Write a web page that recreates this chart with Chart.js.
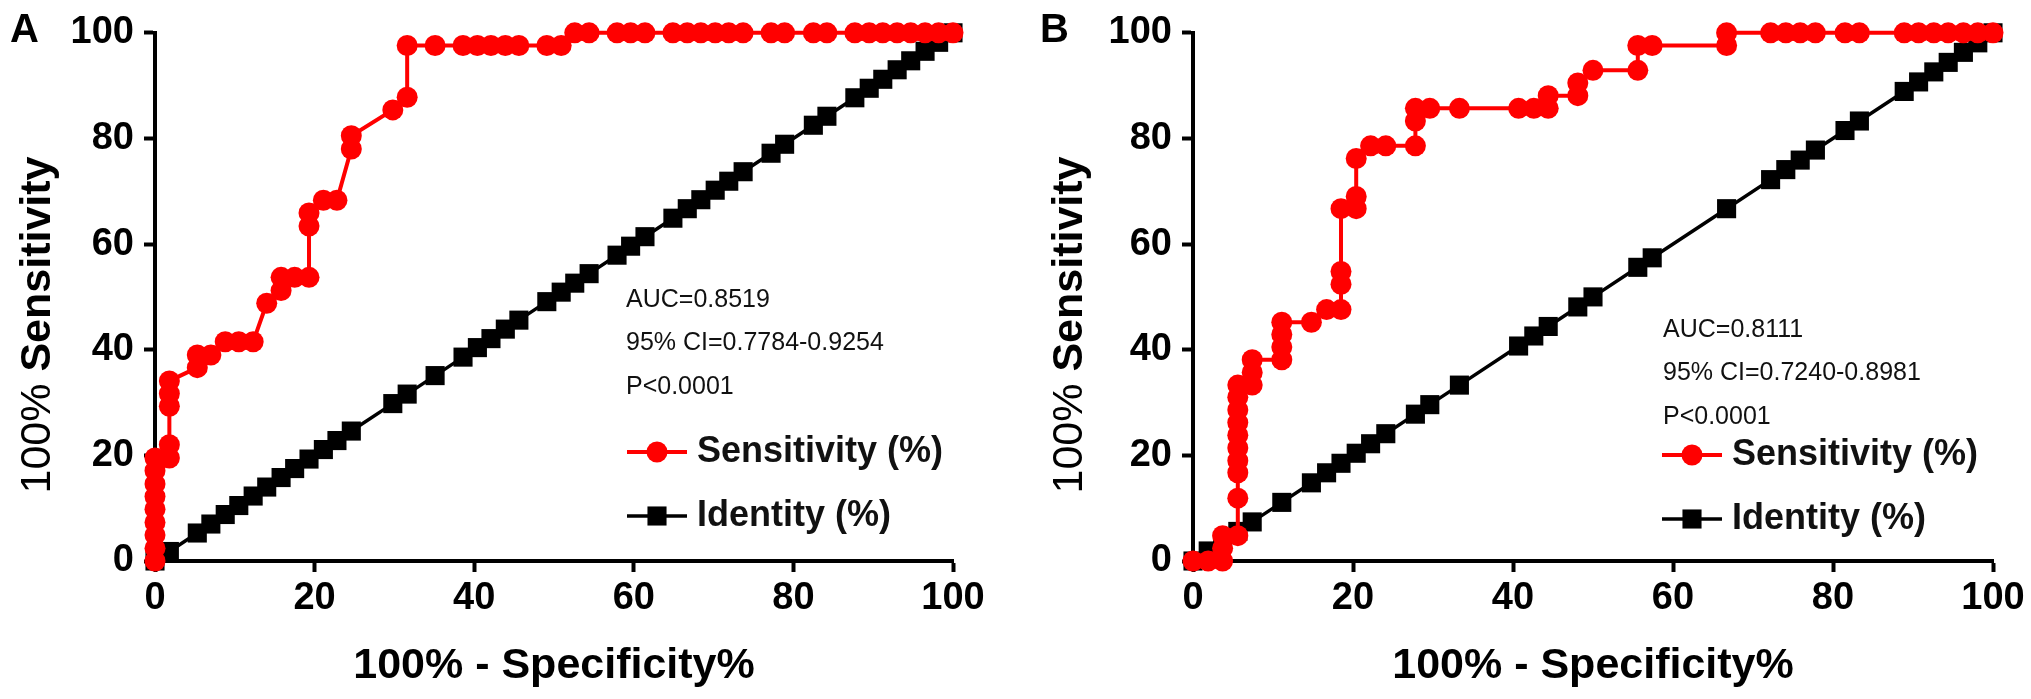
<!DOCTYPE html>
<html>
<head>
<meta charset="utf-8">
<script src="https://cdn.jsdelivr.net/npm/chart.js@4.4.1/dist/chart.umd.min.js"></script>
<style>
  html, body { margin: 0; padding: 0; background: #fff; }
  #wrap { position: relative; width: 2031px; height: 699px; overflow: hidden; }
  canvas { position: absolute; top: 0; }
</style>
</head>
<body>
<div id="wrap">
  <canvas id="cA" width="1015" height="699" style="left:0"></canvas>
  <canvas id="cB" width="1016" height="699" style="left:1015px"></canvas>
</div>
<script>
// ROC curves, panel A and B
const tickStep = 20;
const seriesNames = ['Sensitivity (%)', 'Identity (%)'];

// panel A: 100% - specificity (x) / sensitivity (y)
const rocAx = [0, 0, 0, 0, 0, 0, 0, 0, 0,
  1.8, 1.8, 1.8, 1.8, 1.8,
  5.3, 5.3, 7.0, 8.8, 10.5, 12.3,
  14.0, 15.8, 15.8, 17.5, 19.3, 19.3, 19.3,
  21.1, 22.8, 24.6, 24.6, 29.8, 31.6, 31.6,
  35.1, 38.6, 40.4, 42.1, 43.9, 45.6, 49.1, 50.9,
  52.6, 54.4, 57.9, 59.6, 61.4, 64.9, 66.7, 68.4, 70.2, 71.9, 73.7, 77.2,
  78.9, 82.5, 84.2, 87.7, 89.5, 91.2, 93.0, 94.7, 96.5, 98.2, 100];
const rocAy = [0, 2.4, 4.9, 7.3, 9.8, 12.2, 14.6, 17.1, 19.5,
  19.5, 22.0, 29.3, 31.7, 34.1,
  36.6, 39.0, 39.0, 41.5, 41.5, 41.5,
  48.8, 51.2, 53.7, 53.7, 53.7, 63.4, 65.9,
  68.3, 68.3, 78.0, 80.5, 85.4, 87.8, 97.6,
  97.6, 97.6, 97.6, 97.6, 97.6, 97.6, 97.6, 97.6,
  100, 100, 100, 100, 100, 100, 100, 100, 100, 100, 100, 100,
  100, 100, 100, 100, 100, 100, 100, 100, 100, 100, 100];
// identity line points (squares sit on the diagonal)
const identA = [0, 1.8, 5.3, 7.0, 8.8, 10.5, 12.3, 14.0, 15.8, 17.5, 19.3, 21.1, 22.8, 24.6,
  29.8, 31.6, 35.1, 38.6, 40.4, 42.1, 43.9, 45.6, 49.1, 50.9, 52.6, 54.4, 57.9, 59.6,
  61.4, 64.9, 66.7, 68.4, 70.2, 71.9, 73.7, 77.2, 78.9, 82.5, 84.2, 87.7, 89.5, 91.2,
  93.0, 94.7, 96.5, 98.2, 100];
const statsA = ['AUC=0.8519', '95% CI=0.7784-0.9254', 'P<0.0001'];

// panel B
const rocBx = [0, 1.9, 3.7, 3.7, 3.7,
  5.6, 5.6, 5.6, 5.6, 5.6, 5.6, 5.6, 5.6, 5.6, 5.6,
  7.4, 7.4, 7.4, 11.1, 11.1, 11.1, 11.1, 14.8, 16.7,
  18.5, 18.5, 18.5, 18.5, 20.4, 20.4, 20.4, 22.2, 24.1,
  27.8, 27.8, 27.8, 29.6, 33.3, 40.7, 42.6, 44.4, 44.4, 48.1, 48.1,
  50.0, 55.6, 55.6, 57.4, 66.7, 66.7,
  72.2, 74.1, 75.9, 77.8, 81.5, 83.3, 88.9, 90.7, 92.6, 94.4, 96.3, 98.1, 100];
const rocBy = [0, 0, 0, 2.4, 4.8,
  4.8, 11.9, 16.7, 19.0, 21.4, 23.8, 26.2, 28.6, 31.0, 33.3,
  33.3, 35.7, 38.1, 38.1, 40.5, 42.9, 45.2, 45.2, 47.6,
  47.6, 52.4, 54.8, 66.7, 66.7, 69.0, 76.2, 78.6, 78.6,
  78.6, 83.3, 85.7, 85.7, 85.7, 85.7, 85.7, 85.7, 88.1, 88.1, 90.5,
  92.9, 92.9, 97.6, 97.6, 97.6, 100,
  100, 100, 100, 100, 100, 100, 100, 100, 100, 100, 100, 100, 100];
const identB = [0, 1.9, 3.7, 5.6, 7.4, 11.1, 14.8, 16.7, 18.5, 20.4, 22.2, 24.1, 27.8,
  29.6, 33.3, 40.7, 42.6, 44.4, 48.1, 50.0, 55.6, 57.4, 66.7, 72.2, 74.1, 75.9, 77.8,
  81.5, 83.3, 88.9, 90.7, 92.6, 94.4, 96.3, 98.1, 100];
const statsB = ['AUC=0.8111', '95% CI=0.7240-0.8981', 'P<0.0001'];

const FONT = '"Liberation Sans", Arial, sans-serif';
Chart.defaults.font.family = FONT;

// letter, y title, AUC text and legend drawn by hand
const deco = {
  id: 'deco',
  afterDraw(chart, args, o) {
    const ctx = chart.ctx;
    const a = chart.chartArea;
    ctx.save();
    ctx.fillStyle = '#000';
    ctx.textBaseline = 'alphabetic';
    ctx.font = 'bold 40px ' + FONT;
    ctx.fillText(o.letter, o.letterX, 42);

    // y title: "100%" plain, "Sensitivity" bold
    ctx.save();
    ctx.translate(o.titleX, o.titleY);
    ctx.rotate(-Math.PI / 2);
    const p1 = '100% ', p2 = 'Sensitivity';
    ctx.font = '43px ' + FONT;
    const w1 = ctx.measureText(p1).width;
    ctx.font = 'bold 43px ' + FONT;
    const w2 = ctx.measureText(p2).width;
    const s = -(w1 + w2) / 2;
    ctx.font = '43px ' + FONT;
    ctx.fillText(p1, s, 0);
    ctx.font = 'bold 43px ' + FONT;
    ctx.fillText(p2, s + w1, 0);
    ctx.restore();

    ctx.textBaseline = 'middle';
    ctx.fillStyle = '#111';
    ctx.font = '25px ' + FONT;
    o.stats.forEach((t, i) => ctx.fillText(t, a.left + o.statsDx, o.statsY + i * 43.5));

    chart.data.datasets.forEach((ds, i) => {
      const y = o.legY + i * 64;
      const x0 = a.left + o.legDx;
      ctx.strokeStyle = ds.borderColor;
      ctx.fillStyle = ds.backgroundColor;
      ctx.lineWidth = ds.borderWidth;
      ctx.beginPath();
      ctx.moveTo(x0, y);
      ctx.lineTo(x0 + 60, y);
      ctx.stroke();
      ctx.beginPath();
      if (ds.pointStyle === 'rect') {
        const h = ds.pointRadius * Math.SQRT1_2;
        ctx.rect(x0 + 30 - h, y - h, 2 * h, 2 * h);
      } else {
        ctx.arc(x0 + 30, y, ds.pointRadius, 0, Math.PI * 2);
      }
      ctx.fill();
      ctx.fillStyle = '#111';
      ctx.font = 'bold 36px ' + FONT;
      ctx.fillText(ds.label, x0 + 70, y);
    });
    ctx.restore();
  }
};

const toPts = (xs, ys) => xs.map((x, i) => ({ x: x, y: ys[i] }));

const makePanel = (id, roc, ident, opt) => {
  new Chart(document.getElementById(id), {
    type: 'line',
    data: {
      datasets: [{
        label: seriesNames[0],
        data: roc,
        borderColor: '#ff0000',
        backgroundColor: '#ff0000',
        borderWidth: 4,
        pointStyle: 'circle',
        pointRadius: 10.5,
        pointBorderWidth: 0,
        tension: 0,
        clip: false,
        order: 0
      }, {
        label: seriesNames[1],
        data: ident.map(v => ({ x: v, y: v })),
        borderColor: '#000',
        backgroundColor: '#000',
        borderWidth: 3.5,
        pointStyle: 'rect',
        pointRadius: 13.5,
        pointBorderWidth: 0,
        tension: 0,
        clip: false,
        order: 1
      }]
    },
    options: {
      responsive: false,
      devicePixelRatio: 1,
      animation: false,
      events: [],
      layout: { padding: { left: 0, top: 30, right: opt.padRight, bottom: 0 } },
      plugins: {
        legend: { display: false },
        tooltip: { enabled: false },
        deco: opt
      },
      scales: {
        x: {
          type: 'linear', min: 0, max: 100,
          ticks: { stepSize: tickStep, color: '#000', padding: 4,
            font: { size: 38, weight: 'bold' } },
          grid: { drawOnChartArea: false, tickLength: 11, tickWidth: 4, tickColor: '#000' },
          border: { color: '#000', width: 4 },
          title: { display: true, text: '100% - Specificity%', color: '#000',
            font: { size: 43, weight: 'bold' }, padding: { top: 0, bottom: 7 } },
          afterFit: s => { s.height = 138; }
        },
        y: {
          type: 'linear', min: 0, max: 100,
          ticks: { stepSize: tickStep, color: '#000', padding: 10,
            font: { size: 38, weight: 'bold' } },
          grid: { drawOnChartArea: false, tickLength: 11, tickWidth: 4, tickColor: '#000' },
          border: { color: '#000', width: 4 },
          afterFit: s => { s.width = opt.axisLeft; }
        }
      }
    },
    plugins: [deco]
  });
};

makePanel('cA', toPts(rocAx, rocAy), identA, {
  letter: 'A', letterX: 10, titleX: 50, titleY: 325, axisLeft: 155, padRight: 62,
  stats: statsA, statsDx: 471, statsY: 300, legDx: 472, legY: 452
});
makePanel('cB', toPts(rocBx, rocBy), identB, {
  letter: 'B', letterX: 25, titleX: 67, titleY: 325, axisLeft: 178, padRight: 38,
  stats: statsB, statsDx: 470, statsY: 330, legDx: 469, legY: 455
});
</script>
</body>
</html>
